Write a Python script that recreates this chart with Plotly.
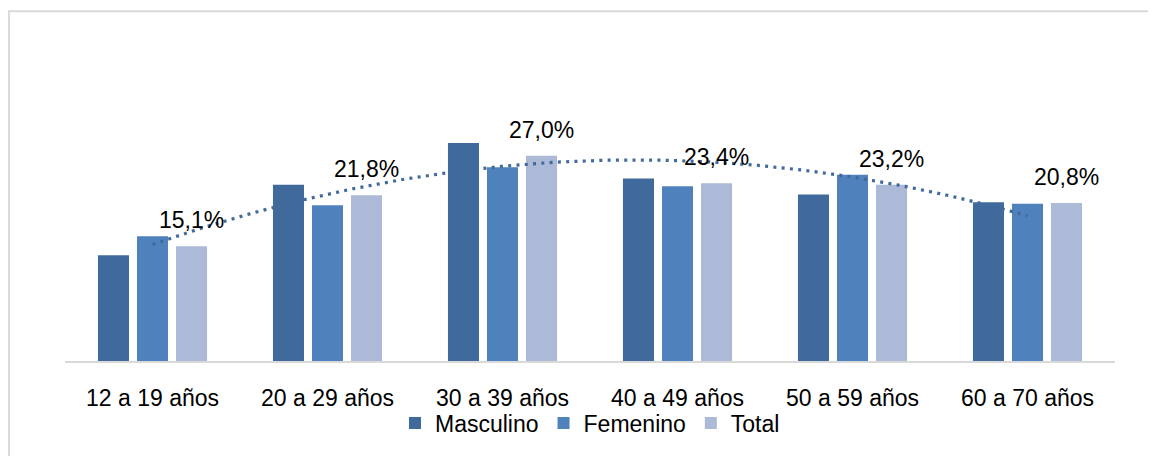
import numpy as np
import plotly.graph_objects as go

categories = ["12 a 19 años", "20 a 29 años", "30 a 39 años", "40 a 49 años", "50 a 59 años", "60 a 70 años"]
masculino = [13.9, 23.2, 28.7, 24.0, 21.9, 20.9]
femenino = [16.4, 20.5, 25.5, 23.0, 24.5, 20.7]
total = [15.1, 21.8, 27.0, 23.4, 23.2, 20.8]

C_MASC = "#406A9C"
C_FEM = "#4F81BD"
C_TOT = "#ACB9D7"
FONT = "Liberation Sans, Arial, sans-serif"
BARGAP = 0.331

xi = list(range(len(categories)))

fig = go.Figure()
fig.add_trace(go.Bar(x=xi, y=masculino, name="Masculino", marker=dict(color=C_MASC, line=dict(width=0))))
fig.add_trace(go.Bar(x=xi, y=femenino, name="Femenino", marker=dict(color=C_FEM, line=dict(width=0))))
fig.add_trace(go.Bar(x=xi, y=total, name="Total", marker=dict(color=C_TOT, line=dict(width=0))))

# polynomial (order 2) trendline on Masculino
coef = np.polyfit(xi, masculino, 2)
xt = np.linspace(0, len(categories) - 1, 300)
yt = np.polyval(coef, xt)
fig.add_trace(go.Scatter(x=xt, y=yt, mode="lines", showlegend=False, hoverinfo="skip",
                         line=dict(color=C_MASC, width=3.2, dash="3px,5.3px")))

# data labels on Total
off = (1 - BARGAP) / 3
for i, v in zip(xi, total):
    fig.add_annotation(x=i + off, y=v, text=f"{v:.1f}".replace(".", ",") + "%",
                       showarrow=False, yanchor="bottom", yshift=11,
                       font=dict(family=FONT, size=23, color="#000000"))

# chart area border
fig.add_shape(type="rect", xref="paper", yref="paper", x0=-0.0533, x1=1.2, y0=-0.5, y1=1.1506,
              line=dict(color="#D9D9D9", width=2), fillcolor="rgba(0,0,0,0)", layer="below")

fig.update_layout(
    width=1148, height=448,
    margin=dict(l=57, r=41, t=49, b=87),
    paper_bgcolor="white", plot_bgcolor="white",
    barmode="group", bargap=BARGAP, bargroupgap=0.205,
    font=dict(family=FONT, size=23, color="#000000"),
    showlegend=True,
    legend=dict(orientation="h", x=0.5, xanchor="center", y=-0.1333, yanchor="top",
                font=dict(family=FONT, size=23, color="#000000"),
                itemwidth=30, tracegroupgap=0, bgcolor="rgba(0,0,0,0)"),
    xaxis=dict(range=[-0.5, 5.5], tickvals=xi, ticktext=categories, showgrid=False,
               showline=True, linecolor="#D9D9D9", linewidth=2, zeroline=False,
               ticks="outside", ticklen=15, tickcolor="rgba(0,0,0,0)",
               tickfont=dict(family=FONT, size=23, color="#000000")),
    yaxis=dict(range=[0, 40], showgrid=False, showticklabels=False, zeroline=False, showline=False),
)

fig.write_html("out.html")
